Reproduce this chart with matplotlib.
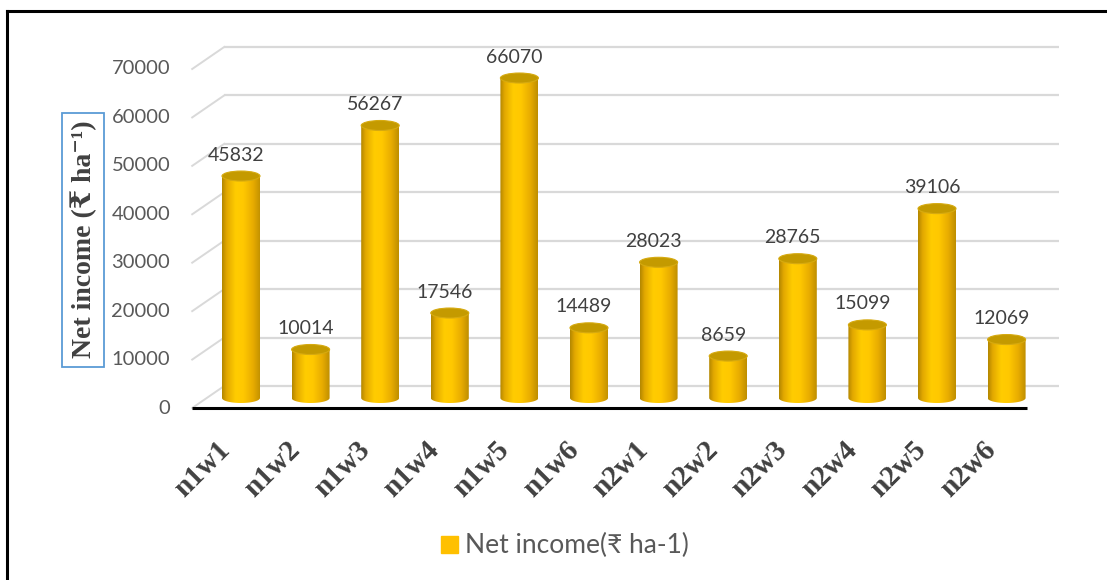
import numpy as np
import matplotlib
matplotlib.use('Agg')
import matplotlib.pyplot as plt
from matplotlib.patches import Ellipse, Rectangle, PathPatch
from matplotlib.path import Path
from matplotlib.lines import Line2D

# data
treatments = ['n1w1', 'n1w2', 'n1w3', 'n1w4', 'n1w5', 'n1w6',
              'n2w1', 'n2w2', 'n2w3', 'n2w4', 'n2w5', 'n2w6']
net_income = [45832, 10014, 56267, 17546, 66070, 14489,
              28023, 8659, 28765, 15099, 39106, 12069]
y_ticks = [0, 10000, 20000, 30000, 40000, 50000, 60000, 70000]
legend_label = 'Net income(\u20b9 ha-1)'
y_title = 'Net income (\u20b9 ha\u207b\u00b9)'

sans = ['Lato', 'DejaVu Sans']
serif = ['Liberation Serif', 'DejaVu Serif', 'DejaVu Sans']

W, H = 1107, 580
fig = plt.figure(figsize=(W / 100, H / 100), dpi=100)

# pixel geometry of the "middle" plane where the cylinders stand
px_cat = 69.6          # pixels per category
px_val = 4.843 / 1000  # pixels per unit of income
x0_px, y0_px = 241, 398

ax = fig.add_axes([0, 0, 1, 1])
ax.axis('off')

def dx(p):
    return p / px_cat

def dy(p):
    return p / px_val

n = len(treatments)
left, right = -0.5, n - 0.5
back = (dx(18), dy(12))
front = (dx(-14), dy(-10))
grid_c = '#d9d9d9'

# back wall gridlines + side-wall diagonals + tick labels on the front plane
for t in y_ticks:
    ax.plot([left + back[0], right + back[0]], [t + back[1]] * 2,
            color=grid_c, lw=1.6, zorder=1, solid_capstyle='butt')
    ax.plot([left + front[0], left + back[0]], [t + front[1], t + back[1]],
            color=grid_c, lw=1.4, zorder=1)
    ax.text(left + front[0] - dx(22), t + front[1], str(t), ha='right',
            va='center', fontsize=14.5, color='#595959', family=sans)

# floor line
ax.plot([left + front[0], right + front[0]], [front[1]] * 2,
        color='black', lw=2.2, zorder=6, solid_capstyle='butt')

# cylinders
stops = [0.0, 0.12, 0.35, 0.55, 0.8, 1.0]
cols = np.array([[178, 134, 0], [226, 168, 0], [255, 204, 0],
                 [255, 200, 0], [232, 172, 0], [190, 142, 0]]) / 255
xs = np.linspace(0, 1, 200)
grad = np.stack([np.interp(xs, stops, cols[:, k]) for k in range(3)], axis=-1)[None, :, :]

a = dx(19)
b = dy(5)
for i, v in enumerate(net_income):
    t = np.linspace(np.pi, 2 * np.pi, 40)
    arc = np.column_stack([i + a * np.cos(t), b * np.sin(t)])
    verts = np.vstack([[i - a, v], arc, [i + a, v], [i - a, v]])
    codes = [Path.MOVETO] + [Path.LINETO] * (len(verts) - 2) + [Path.CLOSEPOLY]
    clip = PathPatch(Path(verts, codes), transform=ax.transData,
                     facecolor='none', edgecolor='none')
    im = ax.imshow(grad, extent=[i - a, i + a, -b, v], aspect='auto',
                   interpolation='bilinear', zorder=3)
    im.set_clip_path(clip)
    ax.add_patch(Ellipse((i, v), 2 * a, 2 * b, facecolor='#c49a00',
                         edgecolor='#d6aa10', lw=0.8, zorder=4))
    ax.text(i - dx(5), v + dy(21), str(v), ha='center', va='center',
            fontsize=14, color='#404040', family=sans, zorder=5)

# category labels
for i, lab in enumerate(treatments):
    ax.text(i - dx(5), dy(-38), lab, rotation=45, ha='right', va='top',
            fontsize=21, fontweight='bold', color='#404040', family=serif)

ax.set_xlim(-x0_px / px_cat, (W - x0_px) / px_cat)
ax.set_ylim(-(H - y0_px) / px_val, y0_px / px_val)

# y axis title in a blue box
fig.add_artist(Rectangle((62 / W, 1 - 367 / H), 42 / W, 254 / H,
                         transform=fig.transFigure, fill=False,
                         edgecolor='#5b9bd5', lw=1.3))
fig.text(84 / W, 1 - 239 / H, y_title, rotation=90, ha='center', va='center',
         fontsize=20, fontweight='bold', color='#404040', family=serif)

# legend
fig.add_artist(Rectangle((441 / W, 1 - 553 / H), 17 / W, 17 / H,
                         transform=fig.transFigure, color='#ffc000'))
fig.text(465 / W, 1 - 545 / H, legend_label, ha='left', va='center',
         fontsize=19, color='#595959', family=sans)

# outer frame (top and left edges only)
fig.add_artist(Line2D([7 / W, 1], [1 - 11 / H] * 2, color='black', lw=2.2))
fig.add_artist(Line2D([7 / W, 7 / W], [0, 1 - 11 / H], color='black', lw=2.2))

fig.savefig('out.png', dpi=100)
